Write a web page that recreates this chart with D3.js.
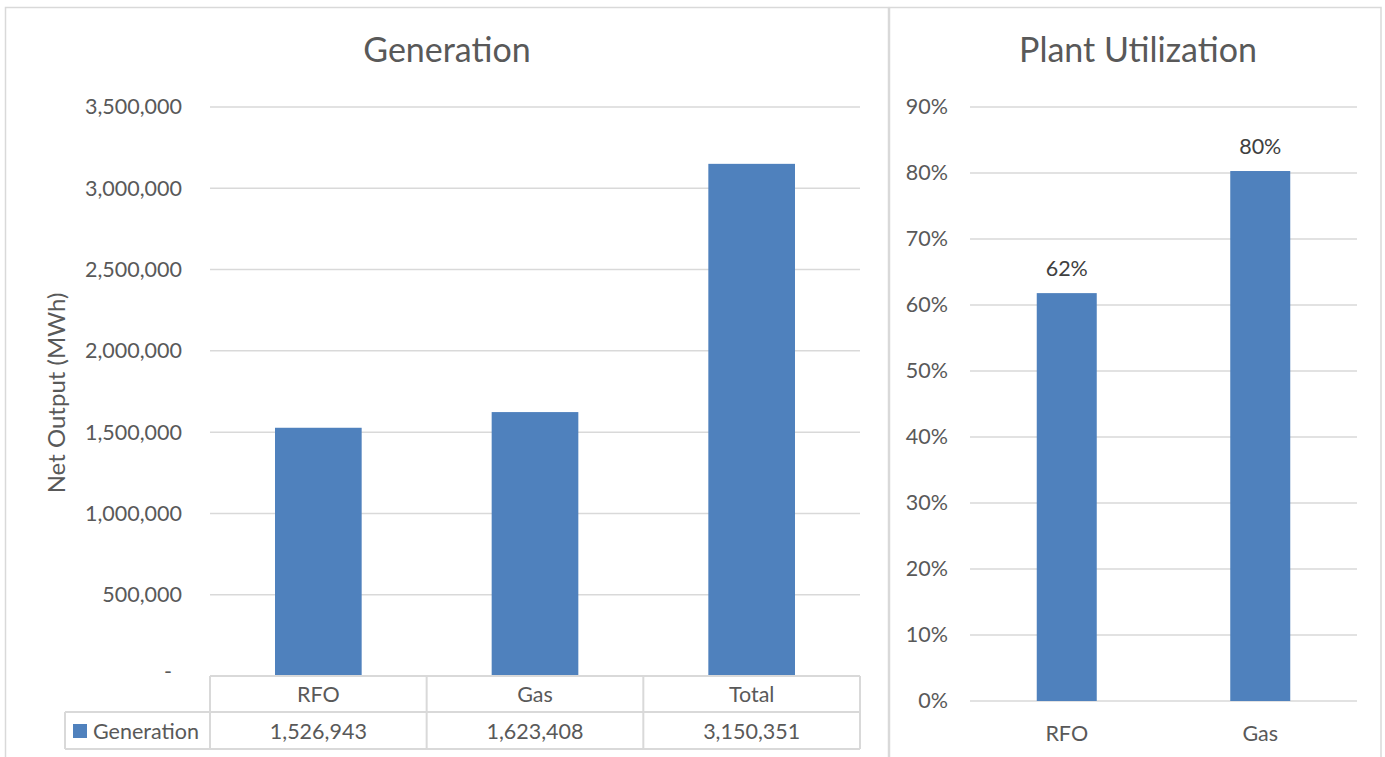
<!DOCTYPE html>
<html lang="en">
<head>
    <meta charset="UTF-8">
    <title>Generation and Plant Utilization</title>
    <script src="https://cdn.jsdelivr.net/npm/d3@7/dist/d3.min.js"></script>
    <style>
        body { margin: 0; background: #fff; }
        text { font-family: Lato, "Open Sans", sans-serif; fill: #595959; }
    </style>
</head>
<body>
    <svg width="1385" height="757" id="mainsvg"></svg>
    <script>
        // data
        const genCategories = ['RFO', 'Gas', 'Total'];
        const genValues = [1526943, 1623408, 3150351];
        const genTicks = [0, 500000, 1000000, 1500000, 2000000, 2500000, 3000000, 3500000];
        const utilCategories = ['RFO', 'Gas'];
        const utilValues = [0.618, 0.803];
        const utilTicks = [0, 0.1, 0.2, 0.3, 0.4, 0.5, 0.6, 0.7, 0.8, 0.9];

        const svg = d3.select('svg');
        const grid = '#d9d9d9';
        const barColor = '#4f81bd';
        const fmtNum = d3.format(',');
        const fmtPct = d3.format('.0%');
        const fs = 21.5;   // label font size
        const titleFs = 34;

        // chart frames
        svg.append('rect').attr('x', 5.5).attr('y', 7.5).attr('width', 883).attr('height', 760)
            .attr('fill', 'none').attr('stroke', grid).attr('stroke-width', 1.5);
        svg.append('rect').attr('x', 889.5).attr('y', 7.5).attr('width', 491.5).attr('height', 760)
            .attr('fill', 'none').attr('stroke', grid).attr('stroke-width', 1.5);

        // ---------- left chart: Generation ----------
        const xL = d3.scaleBand().domain(genCategories).range([210, 860]);
        const yL = d3.scaleLinear().domain([0, 3500000]).range([676, 107]);

        const gL = svg.append('g');
        gL.selectAll('.gridL').data(genTicks.filter(d => d > 0)).join('line')
            .attr('class', 'gridL')
            .attr('x1', 210).attr('x2', 860)
            .attr('y1', d => yL(d)).attr('y2', d => yL(d))
            .attr('stroke', grid).attr('stroke-width', 1.5);

        const yAxisL = d3.axisLeft(yL).tickValues(genTicks).tickSize(0).tickPadding(0)
            .tickFormat(d => d === 0 ? '-' : fmtNum(d));
        const yAxisLG = gL.append('g').attr('transform', 'translate(182,0)').call(yAxisL);
        yAxisLG.select('.domain').remove();
        yAxisLG.selectAll('text').attr('font-size', fs).attr('font-family', null).attr('fill', '#595959');
        yAxisLG.selectAll('.tick').filter(d => d === 0).select('text').attr('dx', -10).attr('dy', '0.1em');

        const bwL = xL.bandwidth() * 0.4;
        gL.selectAll('.barL').data(genValues).join('rect')
            .attr('class', 'barL')
            .attr('x', (d, i) => xL(genCategories[i]) + (xL.bandwidth() - bwL) / 2)
            .attr('width', bwL)
            .attr('y', d => yL(d))
            .attr('height', d => yL(0) - yL(d))
            .attr('fill', barColor);

        gL.append('text').text('Generation')
            .attr('x', 447).attr('y', 62).attr('text-anchor', 'middle').attr('font-size', titleFs);

        gL.append('text').text('Net  Output (MWh)')
            .attr('transform', `translate(65, 393) rotate(-90)`)
            .attr('text-anchor', 'middle').attr('font-size', 24);

        // data table
        const rowTop = yL(0), rowMid = 712, rowBot = 749, legendLeft = 65;
        const tbl = gL.append('g');
        const hline = (x1, x2, y) => tbl.append('line').attr('x1', x1).attr('x2', x2).attr('y1', y).attr('y2', y)
            .attr('stroke', grid).attr('stroke-width', 2);
        const vline = (x, y1, y2) => tbl.append('line').attr('x1', x).attr('x2', x).attr('y1', y1).attr('y2', y2)
            .attr('stroke', grid).attr('stroke-width', 2);
        hline(210, 860, rowTop);
        hline(legendLeft, 860, rowMid);
        hline(legendLeft, 860, rowBot);
        vline(legendLeft, rowMid, rowBot);
        genCategories.forEach(c => vline(xL(c), rowTop, rowBot));
        vline(860, rowTop, rowBot);

        tbl.selectAll('.catL').data(genCategories).join('text')
            .attr('class', 'catL')
            .attr('x', d => xL(d) + xL.bandwidth() / 2).attr('y', (rowTop + rowMid) / 2 + 8)
            .attr('text-anchor', 'middle').attr('font-size', fs).text(d => d);
        tbl.selectAll('.valL').data(genValues).join('text')
            .attr('class', 'valL')
            .attr('x', (d, i) => xL(genCategories[i]) + xL.bandwidth() / 2).attr('y', (rowMid + rowBot) / 2 + 8)
            .attr('text-anchor', 'middle').attr('font-size', fs).text(d => fmtNum(d));
        tbl.append('rect').attr('x', 73).attr('y', 724).attr('width', 14).attr('height', 14).attr('fill', barColor);
        tbl.append('text').text('Generation').attr('x', 93).attr('y', (rowMid + rowBot) / 2 + 8).attr('font-size', fs);

        // ---------- right chart: Plant Utilization ----------
        const xR = d3.scaleBand().domain(utilCategories).range([970, 1357]);
        const yR = d3.scaleLinear().domain([0, 0.9]).range([701, 107]);
        const gR = svg.append('g');

        gR.selectAll('.gridR').data(utilTicks).join('line')
            .attr('class', 'gridR')
            .attr('x1', 970).attr('x2', 1357)
            .attr('y1', d => yR(d)).attr('y2', d => yR(d))
            .attr('stroke', grid).attr('stroke-width', 1.5);

        const yAxisR = d3.axisLeft(yR).tickValues(utilTicks).tickSize(0).tickPadding(0).tickFormat(fmtPct);
        const yAxisRG = gR.append('g').attr('transform', 'translate(948,0)').call(yAxisR);
        yAxisRG.select('.domain').remove();
        yAxisRG.selectAll('text').attr('font-size', fs).attr('font-family', null).attr('fill', '#595959');

        const bwR = 60;
        gR.selectAll('.barR').data(utilValues).join('rect')
            .attr('class', 'barR')
            .attr('x', (d, i) => xR(utilCategories[i]) + (xR.bandwidth() - bwR) / 2)
            .attr('width', bwR)
            .attr('y', d => yR(d))
            .attr('height', d => yR(0) - yR(d))
            .attr('fill', barColor);

        gR.selectAll('.lblR').data(utilValues).join('text')
            .attr('class', 'lblR')
            .attr('x', (d, i) => xR(utilCategories[i]) + xR.bandwidth() / 2)
            .attr('y', d => yR(d) - 17)
            .attr('text-anchor', 'middle').attr('font-size', fs)
            .style('fill', '#404040').text(d => fmtPct(d));

        gR.selectAll('.catR').data(utilCategories).join('text')
            .attr('class', 'catR')
            .attr('x', d => xR(d) + xR.bandwidth() / 2).attr('y', 741)
            .attr('text-anchor', 'middle').attr('font-size', fs).text(d => d);

        gR.append('text').text('Plant Utilization')
            .attr('x', 1138).attr('y', 62).attr('text-anchor', 'middle').attr('font-size', titleFs);
    </script>
</body>
</html>
